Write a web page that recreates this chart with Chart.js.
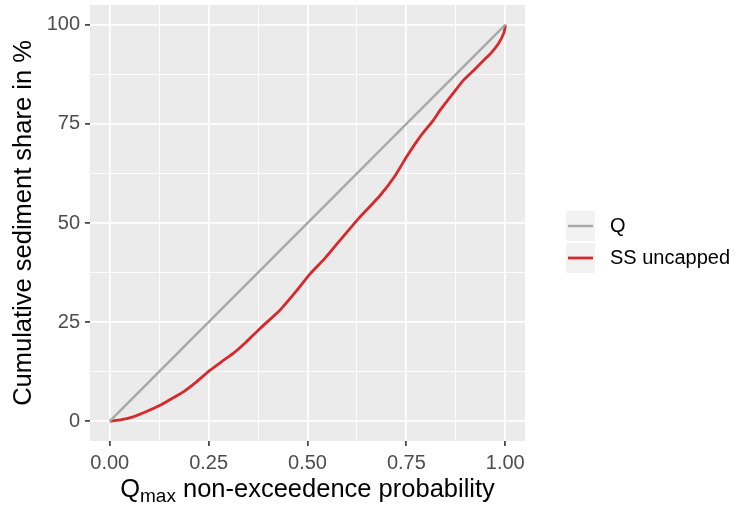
<!DOCTYPE html>
<html>
<head>
<meta charset="utf-8">
<script src="https://cdn.jsdelivr.net/npm/chart.js@4/dist/chart.umd.min.js"></script>
<style>
  html, body { margin: 0; padding: 0; background: #fff; }
  #wrap { width: 737px; height: 505px; }
</style>
</head>
<body>
<div id="wrap"><canvas id="chart" width="737" height="505"></canvas></div>
<script>
// data
const qProb = [0, 1];
const qShare = [0, 100];

const ssProb = [0, 0.03, 0.059, 0.09, 0.127, 0.155, 0.186, 0.22, 0.253, 0.28, 0.312, 0.345,
  0.38, 0.43, 0.473, 0.506, 0.545, 0.582, 0.629, 0.684, 0.722, 0.751, 0.785, 0.818, 0.835,
  0.865, 0.894, 0.92, 0.945, 0.965, 0.983, 0.996, 1.0, 1.0];
const ssShare = [0, 0.4, 1.1, 2.3, 4.0, 5.6, 7.4, 10.0, 12.8, 14.8, 17.1, 20.0,
  23.4, 28.0, 33.0, 37.1, 41.2, 45.6, 51.1, 57.0, 62.0, 66.8, 71.8, 75.9, 78.4,
  82.3, 86.0, 88.5, 91.0, 93.0, 95.3, 97.8, 99.6, 100];

const xMajor = [0, 0.25, 0.5, 0.75, 1];
const xMinor = [0.125, 0.375, 0.625, 0.875];
const yMajor = [0, 25, 50, 75, 100];
const yMinor = [12.5, 37.5, 62.5, 87.5];

const seriesNames = ['Q', 'SS uncapped'];
const seriesColors = ['#A8A8A8', '#D7282C'];

const tickFont = { family: 'Liberation Sans, Arial, sans-serif', size: 20 };
const titleFont = '25.5px "Liberation Sans", Arial, sans-serif';

function toPoints(xs, ys) {
  return xs.map((x, i) => ({ x: x, y: ys[i] }));
}

function gridScale(major, minor, min, max, fmt) {
  return {
    type: 'linear',
    min: min,
    max: max,
    border: { display: false },
    afterBuildTicks: s => {
      s.ticks = major.concat(minor).sort((a, b) => a - b).map(v => ({ value: v }));
    },
    ticks: {
      autoSkip: false,
      maxRotation: 0,
      color: '#4D4D4D',
      font: tickFont,
      padding: 5,
      callback: v => major.includes(v) ? fmt(v) : ''
    },
    grid: {
      color: '#FFFFFF',
      lineWidth: c => major.includes(c.tick.value) ? 1.8 : 0.9,
      drawTicks: true,
      tickLength: 5,
      tickWidth: 1.6,
      tickColor: c => major.includes(c.tick.value) ? '#333333' : 'rgba(0,0,0,0)'
    }
  };
}

const panelPlugin = {
  id: 'panel',
  beforeDraw(chart) {
    const { ctx, chartArea: a } = chart;
    ctx.save();
    ctx.fillStyle = '#FFFFFF';
    ctx.fillRect(0, 0, chart.width, chart.height);
    ctx.fillStyle = '#EBEBEB';
    ctx.fillRect(a.left, a.top, a.right - a.left, a.bottom - a.top);
    ctx.restore();
  },
  afterDraw(chart) {
    const { ctx, chartArea: a } = chart;
    ctx.save();
    ctx.fillStyle = '#000000';

    // y title
    ctx.save();
    ctx.translate(24, (a.top + a.bottom) / 2);
    ctx.rotate(-Math.PI / 2);
    ctx.font = titleFont;
    ctx.textAlign = 'center';
    ctx.textBaseline = 'middle';
    ctx.fillText('Cumulative sediment share in %', 0, 0);
    ctx.restore();

    // x title with subscript
    const big = titleFont;
    const small = '19px "Liberation Sans", Arial, sans-serif';
    const p1 = 'Q', p2 = 'max', p3 = ' non-exceedence probability';
    ctx.font = big;
    const w1 = ctx.measureText(p1).width;
    const w3 = ctx.measureText(p3).width;
    ctx.font = small;
    const w2 = ctx.measureText(p2).width;
    let x = (a.left + a.right) / 2 - (w1 + w2 + w3) / 2;
    const base = 497;
    ctx.textBaseline = 'alphabetic';
    ctx.textAlign = 'left';
    ctx.font = big;
    ctx.fillText(p1, x, base);
    x += w1;
    ctx.font = small;
    ctx.fillText(p2, x, base + 5);
    x += w2;
    ctx.font = big;
    ctx.fillText(p3, x, base);

    // legend
    const keyX = 566, keyW = 29, keyH = 30;
    const keyTops = [211, 243];
    seriesNames.forEach((name, i) => {
      const ty = keyTops[i];
      ctx.fillStyle = '#F2F2F2';
      ctx.fillRect(keyX, ty, keyW, keyH);
      ctx.strokeStyle = seriesColors[i];
      ctx.lineWidth = i === 0 ? 2.4 : 2.8;
      ctx.beginPath();
      ctx.moveTo(keyX + 2, ty + keyH / 2);
      ctx.lineTo(keyX + keyW - 2, ty + keyH / 2);
      ctx.stroke();
      ctx.fillStyle = '#000000';
      ctx.font = '20px "Liberation Sans", Arial, sans-serif';
      ctx.textBaseline = 'middle';
      ctx.fillText(name, 610, ty + keyH / 2);
    });
    ctx.restore();
  }
};

new Chart(document.getElementById('chart'), {
  type: 'scatter',
  data: {
    datasets: [
      {
        label: seriesNames[0],
        data: toPoints(qProb, qShare),
        showLine: true,
        borderColor: seriesColors[0],
        borderWidth: 2.4,
        pointRadius: 0
      },
      {
        label: seriesNames[1],
        data: toPoints(ssProb, ssShare),
        showLine: true,
        borderColor: seriesColors[1],
        borderWidth: 2.8,
        pointRadius: 0,
        tension: 0.2
      }
    ]
  },
  options: {
    responsive: false,
    animation: false,
    layout: { padding: { left: 0, top: 5, right: 212, bottom: 0 } },
    plugins: { legend: { display: false }, tooltip: { enabled: false } },
    scales: {
      x: Object.assign(gridScale(xMajor, xMinor, -0.05, 1.05, v => v.toFixed(2)), {
        afterFit: s => { s.height = 64; s.paddingLeft = 0; s.paddingRight = 0; }
      }),
      y: Object.assign(gridScale(yMajor, yMinor, -5, 105, v => String(v)), {
        afterFit: s => { s.width = 90; s.paddingTop = 0; s.paddingBottom = 0; }
      })
    }
  },
  plugins: [panelPlugin]
});
</script>
</body>
</html>
